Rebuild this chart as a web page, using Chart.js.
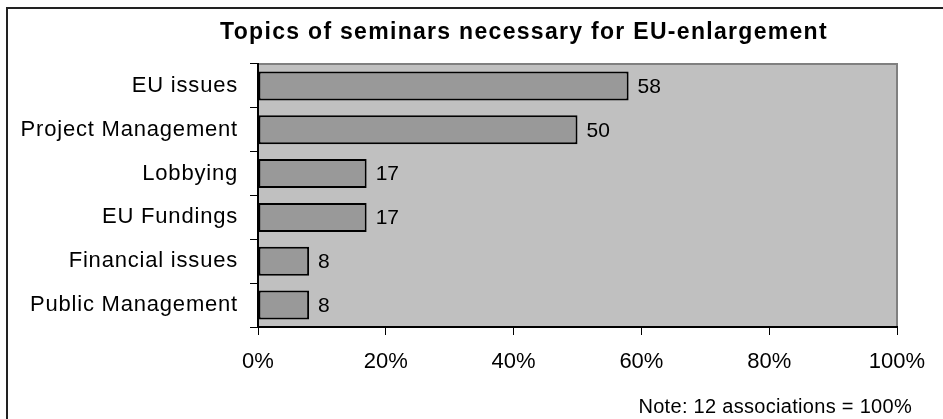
<!DOCTYPE html>
<html>
<head>
<meta charset="utf-8">
<script src="https://cdn.jsdelivr.net/npm/chart.js@4"></script>
<style>
  html, body { margin: 0; padding: 0; background: #fff; }
  #wrap { width: 943px; height: 419px; }
</style>
</head>
<body>
<div id="wrap"><canvas id="c" width="943" height="419"></canvas></div>
<script>
// Seminar topics and share of associations (%)
const topics = ['EU issues', 'Project Management', 'Lobbying', 'EU Fundings', 'Financial issues', 'Public Management'];
const shares = [58, 50, 17, 17, 8, 8];
const percentTicks = [0, 20, 40, 60, 80, 100];
const chartTitle = 'Topics of seminars necessary for EU-enlargement';
const noteText = 'Note: 12 associations = 100%';

const FONT = "'Liberation Sans', Arial, sans-serif";

// Frame, grey plot background, title and note
const decor = {
  id: 'decor',
  beforeDraw(chart) {
    const { ctx, chartArea: a } = chart;

    // slightly open spacing for the category labels on the y axis
    const ys = chart.scales.y;
    if (ys && !ys._spacedLabels) {
      const orig = ys.drawLabels;
      ys.drawLabels = function (area) {
        this.ctx.save();
        this.ctx.letterSpacing = '0.8px';
        orig.call(this, area);
        this.ctx.restore();
      };
      ys._spacedLabels = true;
    }

    ctx.save();
    ctx.fillStyle = '#ffffff';
    ctx.fillRect(0, 0, chart.width, chart.height);
    // outer frame (continues past the right and bottom edges)
    ctx.strokeStyle = '#222222';
    ctx.lineWidth = 2;
    ctx.beginPath();
    ctx.moveTo(7, chart.height + 5);
    ctx.lineTo(7, 8);
    ctx.lineTo(chart.width + 5, 8);
    ctx.stroke();
    // plot area
    ctx.fillStyle = '#c0c0c0';
    ctx.fillRect(a.left, a.top, a.right - a.left, a.bottom - a.top);
    ctx.strokeStyle = '#808080';
    ctx.lineWidth = 2;
    ctx.beginPath();
    ctx.moveTo(a.left, a.top);
    ctx.lineTo(a.right, a.top);
    ctx.lineTo(a.right, a.bottom);
    ctx.stroke();
    // title
    ctx.fillStyle = '#000';
    ctx.font = "bold 23px " + FONT;
    ctx.letterSpacing = '1.3px';
    ctx.textAlign = 'center';
    ctx.textBaseline = 'alphabetic';
    ctx.fillText(chartTitle, 524, 39);
    ctx.restore();
  },
  afterDraw(chart) {
    const { ctx } = chart;
    ctx.save();
    ctx.fillStyle = '#000';
    ctx.font = "20px " + FONT;
    ctx.letterSpacing = '0.3px';
    ctx.textAlign = 'right';
    ctx.textBaseline = 'alphabetic';
    ctx.fillText(noteText, 912, 413);
    ctx.restore();
  }
};

// Value printed to the right of each bar
const barValues = {
  id: 'barValues',
  afterDatasetsDraw(chart) {
    const { ctx } = chart;
    const meta = chart.getDatasetMeta(0);
    ctx.save();
    ctx.fillStyle = '#000';
    ctx.font = "21px " + FONT;
    ctx.textAlign = 'left';
    ctx.textBaseline = 'middle';
    meta.data.forEach((bar, i) => {
      ctx.fillText(String(chart.data.datasets[0].data[i]), bar.x + 9, bar.y + 1);
    });
    ctx.restore();
  }
};

const chart = new Chart(document.getElementById('c'), {
  type: 'bar',
  data: {
    labels: topics,
    datasets: [{
      data: shares,
      backgroundColor: '#999999',
      borderColor: '#000000',
      borderWidth: 2,
      borderSkipped: false,
      categoryPercentage: 1.0,
      barPercentage: 0.66
    }]
  },
  options: {
    indexAxis: 'y',
    responsive: false,
    animation: false,
    layout: { padding: { left: 0, right: 46, top: 64, bottom: 0 } },
    plugins: {
      legend: { display: false },
      tooltip: { enabled: false },
      title: { display: false }
    },
    scales: {
      x: {
        min: 0,
        max: 100,
        afterBuildTicks(scale) {
          scale.ticks = percentTicks.map(v => ({ value: v }));
        },
        afterFit(scale) { scale.height = 92; },
        grid: {
          drawOnChartArea: false,
          drawTicks: true,
          tickLength: 8,
          color: '#000000',
          lineWidth: 1
        },
        border: { display: true, color: '#000000', width: 2 },
        ticks: {
          color: '#000',
          font: { family: FONT, size: 22 },
          padding: 14,
          maxRotation: 0,
          callback: v => v + '%'
        }
      },
      y: {
        afterFit(scale) { scale.width = 258; },
        grid: {
          offset: true,
          drawOnChartArea: false,
          drawTicks: true,
          tickLength: 8,
          color: '#000000',
          lineWidth: 1
        },
        border: { display: true, color: '#000000', width: 2 },
        ticks: {
          color: '#000',
          font: { family: FONT, size: 22 },
          padding: 12,
          autoSkip: false
        }
      }
    }
  },
  plugins: [decor, barValues]
});
chart.draw();
</script>
</body>
</html>
